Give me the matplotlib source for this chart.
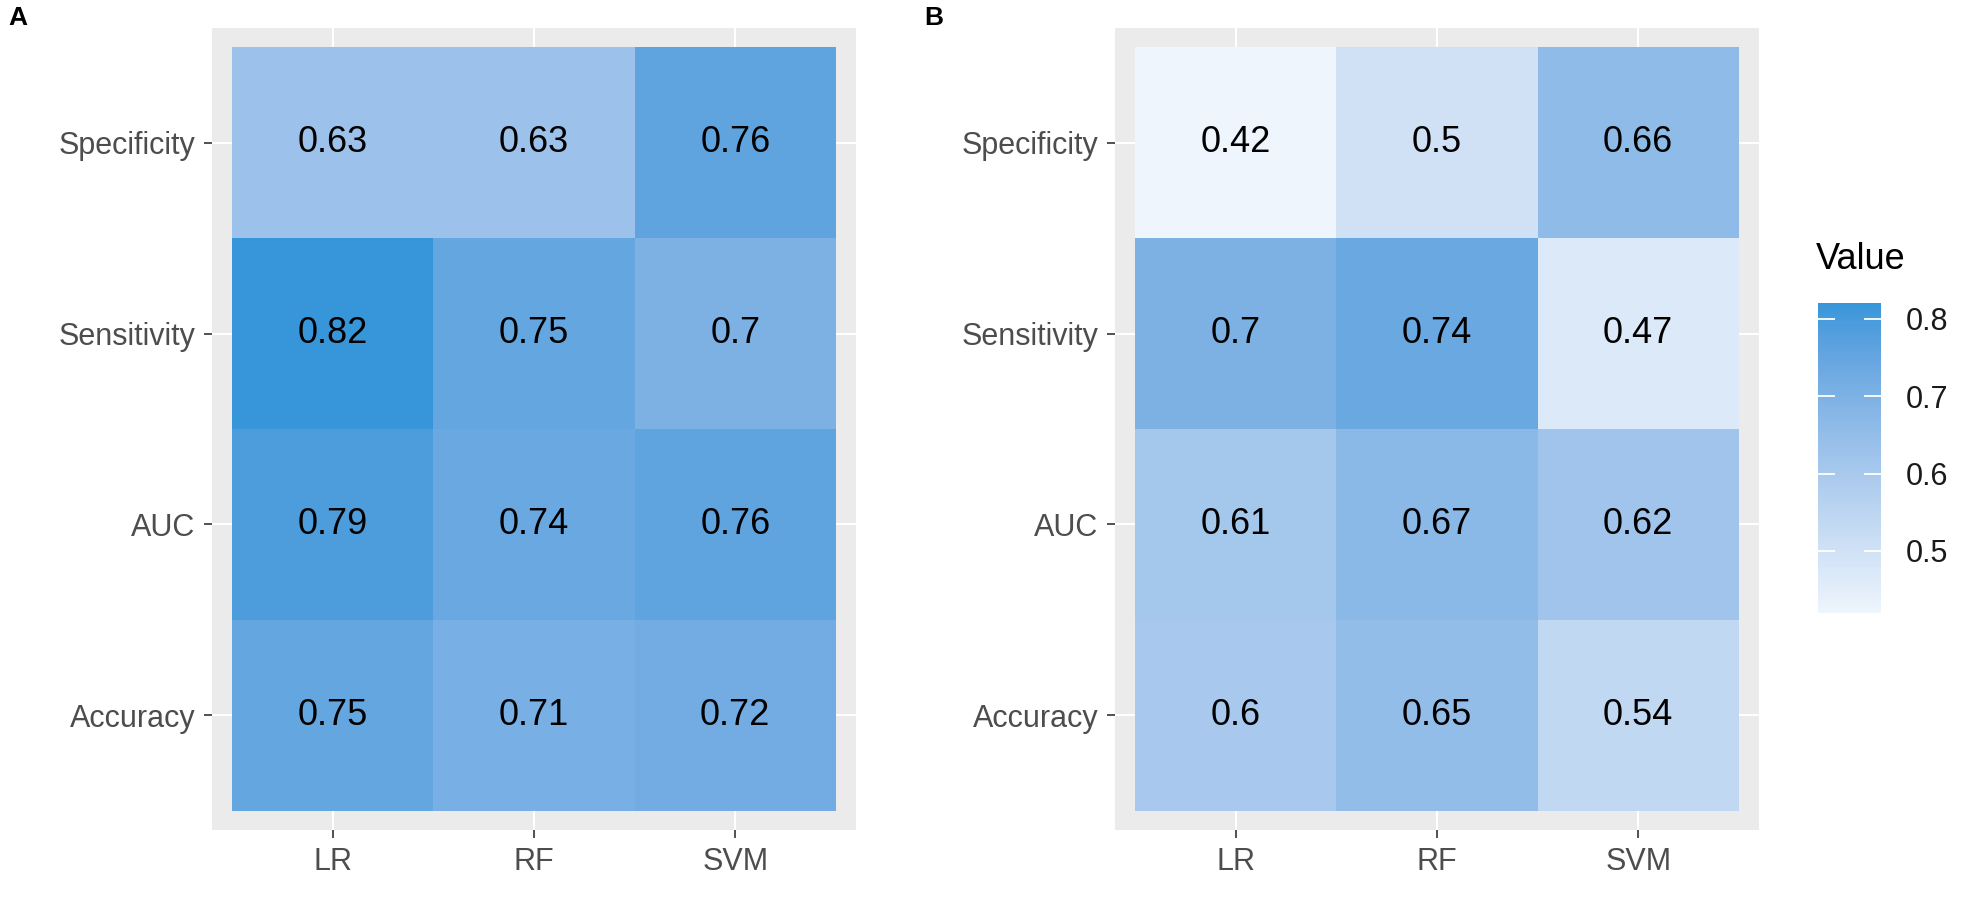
import numpy as np
import matplotlib
matplotlib.use("Agg")
import matplotlib.pyplot as plt
from matplotlib.colors import ListedColormap, Normalize
from matplotlib.cm import ScalarMappable

# ---------------- data ----------------
models = ["LR", "RF", "SVM"]
metrics = ["Accuracy", "AUC", "Sensitivity", "Specificity"]  # bottom -> top

# rows follow `metrics`, columns follow `models`
values_A = [
    [0.75, 0.71, 0.72],   # Accuracy
    [0.79, 0.74, 0.76],   # AUC
    [0.82, 0.75, 0.70],   # Sensitivity
    [0.63, 0.63, 0.76],   # Specificity
]
values_B = [
    [0.60, 0.65, 0.54],   # Accuracy
    [0.61, 0.67, 0.62],   # AUC
    [0.70, 0.74, 0.47],   # Sensitivity
    [0.42, 0.50, 0.66],   # Specificity
]
panel_labels = ["A", "B"]
legend_title = "Value"
legend_ticks = [0.5, 0.6, 0.7, 0.8]

LOW = "#EEF5FC"
HIGH = "#3796DA"

# ---------------- Lab gradient (like ggplot scale_fill_gradient) ----------------
def hex2rgb(h):
    h = h.lstrip("#")
    return np.array([int(h[i:i + 2], 16) / 255 for i in (0, 2, 4)])

M = np.array([[0.4124564, 0.3575761, 0.1804375],
              [0.2126729, 0.7151522, 0.0721750],
              [0.0193339, 0.1191920, 0.9503041]])
Minv = np.linalg.inv(M)
WHITE = np.array([0.95047, 1.0, 1.08883])

def rgb2lab(c):
    lin = np.where(c <= 0.04045, c / 12.92, ((c + 0.055) / 1.055) ** 2.4)
    xyz = M @ lin / WHITE
    f = np.where(xyz > (6 / 29) ** 3, np.cbrt(xyz), xyz / (3 * (6 / 29) ** 2) + 4 / 29)
    return np.array([116 * f[1] - 16, 500 * (f[0] - f[1]), 200 * (f[1] - f[2])])

def lab2rgb(lab):
    L, a, b = lab
    fy = (L + 16) / 116
    fx = fy + a / 500
    fz = fy - b / 200
    f = np.array([fx, fy, fz])
    xyz = np.where(f > 6 / 29, f ** 3, 3 * (6 / 29) ** 2 * (f - 4 / 29)) * WHITE
    lin = Minv @ xyz
    lin = np.clip(lin, 0, 1)
    c = np.where(lin <= 0.0031308, 12.92 * lin, 1.055 * lin ** (1 / 2.4) - 0.055)
    return np.clip(c, 0, 1)

lab_lo, lab_hi = rgb2lab(hex2rgb(LOW)), rgb2lab(hex2rgb(HIGH))
cols = [lab2rgb(lab_lo + (lab_hi - lab_lo) * t) for t in np.linspace(0, 1, 256)]
cmap = ListedColormap(cols)

allv = np.array(values_A + values_B)
norm = Normalize(vmin=allv.min(), vmax=allv.max())

# ---------------- figure ----------------
W, H = 1973, 914
fig = plt.figure(figsize=(W / 100, H / 100), dpi=100)
plt.rcParams["font.family"] = ["Liberation Sans", "DejaVu Sans"]

def frac(x0, y0, x1, y1):
    return [x0 / W, 1 - y1 / H, (x1 - x0) / W, (y1 - y0) / H]

panel_boxes = [frac(212, 28, 856, 830), frac(1115, 28, 1759, 830)]
label_pos = [(8 / W, 1 - 6 / H), (924 / W, 1 - 6 / H)]

for vals, box, lab, lpos in zip([values_A, values_B], panel_boxes, panel_labels, label_pos):
    ax = fig.add_axes(box)
    arr = np.array(vals)
    ax.set_facecolor("#EBEBEB")
    ax.pcolormesh(np.arange(len(models) + 1) - 0.5, np.arange(len(metrics) + 1) - 0.5,
                  arr, cmap=cmap, norm=norm, shading="flat", zorder=2,
                  edgecolors="face", linewidth=0)
    for i in range(len(metrics)):
        for j in range(len(models)):
            ax.text(j, i, f"{arr[i, j]:g}", ha="center", va="center",
                    fontsize=26, color="black", zorder=3)
    ax.set_xlim(-0.6, len(models) - 0.4)
    ax.set_ylim(-0.6, len(metrics) - 0.4)
    ax.set_xticks(range(len(models)))
    ax.set_xticklabels(models)
    ax.set_yticks(range(len(metrics)))
    ax.set_yticklabels(metrics)
    ax.grid(True, color="white", linewidth=1.5, zorder=1)
    ax.set_axisbelow(True)
    for s in ax.spines.values():
        s.set_visible(False)
    ax.tick_params(axis="both", length=6, width=1.2, color="#333333",
                   labelcolor="#4D4D4D", labelsize=22, pad=6)
    fig.text(lpos[0], lpos[1], lab, fontsize=19, fontweight="bold",
             ha="left", va="top")

# ---------------- colorbar ----------------
cax = fig.add_axes(frac(1818, 303, 1881, 613))
sm = ScalarMappable(norm=norm, cmap=cmap)
cb = fig.colorbar(sm, cax=cax, ticks=legend_ticks)
cb.outline.set_visible(False)
cax.yaxis.set_ticks_position("both")
cax.tick_params(axis="y", direction="in", length=12, width=1.3, colors="white",
                labelcolor="#1A1A1A", labelsize=22, labelleft=False, labelright=True, pad=18)
cax.set_yticklabels([f"{t:g}" for t in legend_ticks])
fig.text(1816 / W, 1 - 260 / H, legend_title, fontsize=26, ha="left", va="center",
         color="black")

fig.savefig("out.png", dpi=100)
